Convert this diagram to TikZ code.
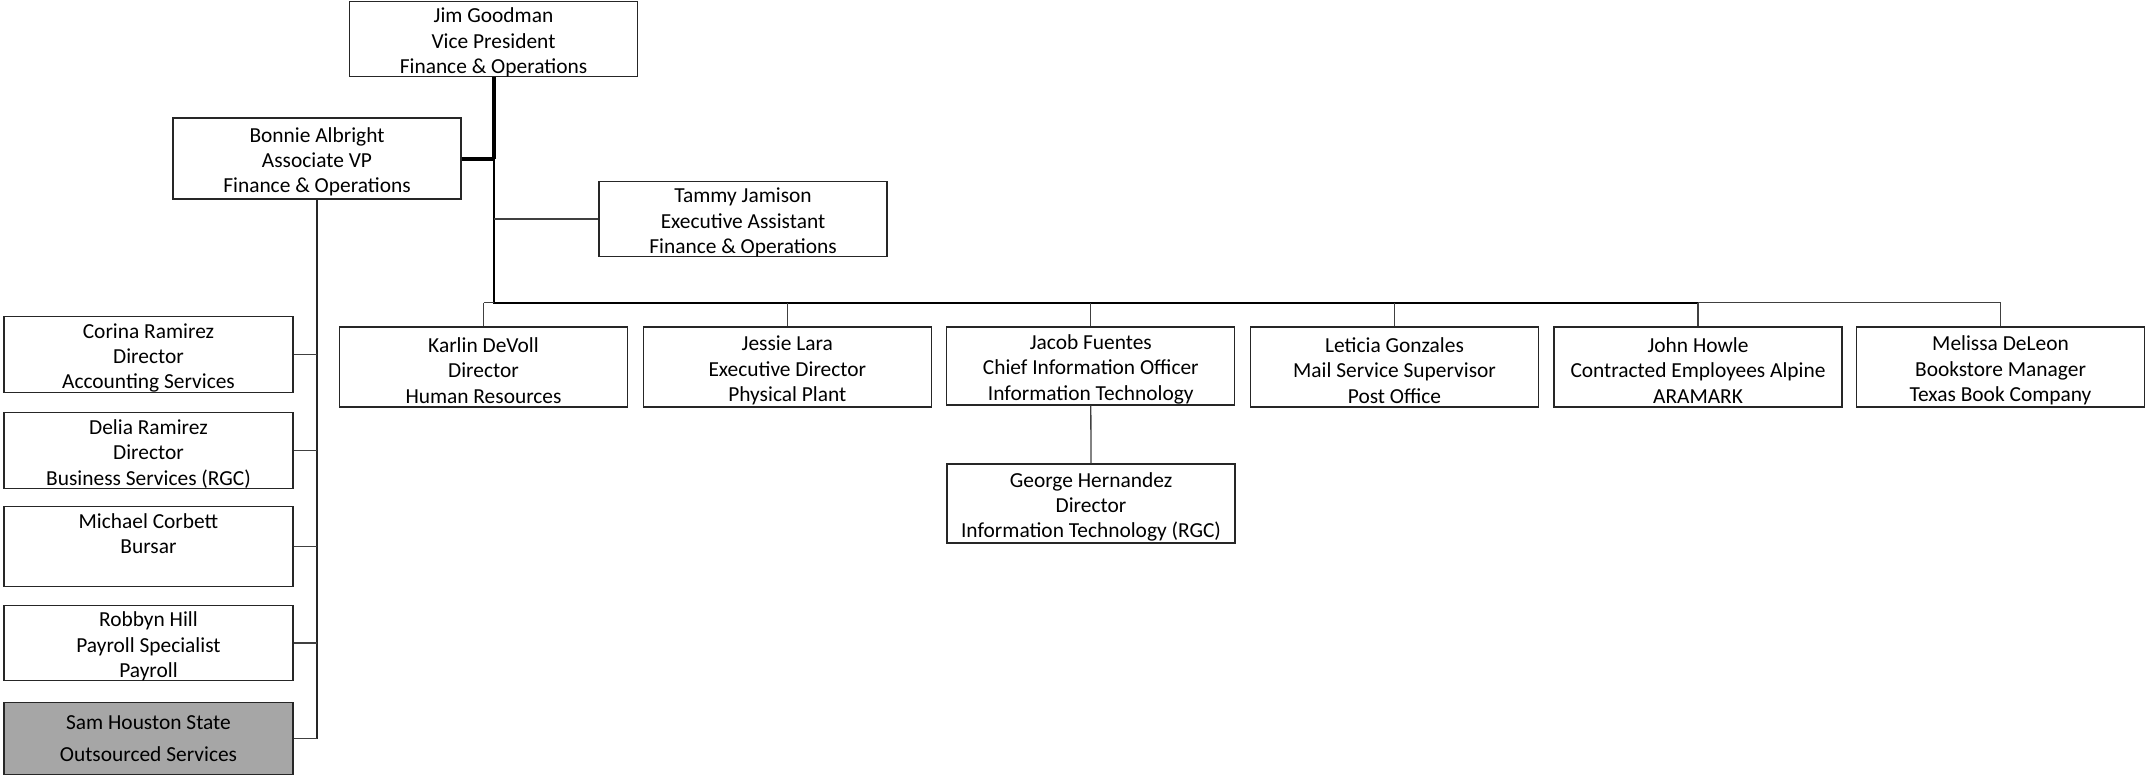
\documentclass[tikz,border=0pt]{standalone}
\usepackage{fontspec}
\setmainfont{Carlito}
\definecolor{linegray}{HTML}{404040}
\definecolor{boxgray}{HTML}{A6A6A6}
\newcommand{\fs}{\rule{0pt}{10.8pt}}
\begin{document}
\begin{tikzpicture}[x=0.5pt,y=-0.5pt,
  box/.style={draw=black!85, line width=0.55pt, rectangle, align=center, inner sep=0pt,
    minimum width=144pt, font=\fontsize{10.7}{12.7}\selectfont},
  grbox/.style={draw=black!85, line width=0.55pt, rectangle, align=center, inner sep=0pt,
    minimum width=144.5pt, fill=boxgray, font=\fontsize{10.7}{16}\selectfont},
  thickline/.style={line width=1.65pt, black},
  midline/.style={line width=0.85pt, black},
  thinline/.style={line width=0.65pt, linegray}]
\useasboundingbox (0,0) rectangle (2145,775);
% top
\node[box, minimum height=36pt] (jim) at (493.5,39) {\fs Jim Goodman\\Vice President\\Finance \& Operations};
\node[box, minimum height=40.5pt] (bonnie) at (317,158.5) {\fs Bonnie Albright\\Associate VP\\Finance \& Operations};
\node[box, minimum height=36pt] (tammy) at (743,219) {\fs Tammy Jamison\\Executive Assistant\\Finance \& Operations};
% row
\node[box, minimum height=40pt] (karlin) at (483.5,367) {\fs Karlin DeVoll\\Director\\Human Resources};
\node[box, minimum height=40pt] (jessie) at (787.3,367) {\fs Jessie Lara\\Executive Director\\Physical Plant};
\node[box, minimum height=39pt] (jacob) at (1090.8,366) {\fs Jacob Fuentes\\Chief Information Officer\\Information Technology};
\node[box, minimum height=40pt] (leticia) at (1394.5,367) {\fs Leticia Gonzales\\Mail Service Supervisor\\Post Office};
\node[box, minimum height=40pt] (john) at (1698,367) {\fs John Howle\\Contracted Employees Alpine\\ARAMARK};
\node[box, minimum height=40pt] (melissa) at (2000.5,367) {\fs Melissa DeLeon\\Bookstore Manager\\Texas Book Company};
\node[box, minimum height=39.5pt] (george) at (1091,503.5) {\fs George Hernandez\\Director\\Information Technology (RGC)};
% left column
\node[box, minimum height=36.5pt, minimum width=144.5pt] (corina) at (148.5,354.5) {\fs Corina Ramirez\\Director\\Accounting Services};
\node[box, minimum height=36.5pt, minimum width=144.5pt] (delia) at (148.5,450.5) {\fs Delia Ramirez\\Director\\Business Services (RGC)};
\node[box, minimum height=36.5pt, minimum width=144.5pt] (michael) at (148.5,546.5) {\fs Michael Corbett\\Bursar\\\strut};
\node[box, minimum height=36pt, minimum width=144.5pt] (robbyn) at (148.5,643) {\fs Robbyn Hill\\Payroll Specialist\\Payroll};
\node[grbox, minimum height=36pt] (sam) at (148.5,738.5) {Sam Houston State\\Outsourced Services};
% junction coordinates
\coordinate (j1) at (494,159);
\coordinate (bar) at (494,302.7);
\coordinate (barL) at (483.5,302.7);
\coordinate (barM) at (1698,302.7);
\coordinate (barR) at (2000.5,302.7);
\coordinate (lv) at (317,739);
% connectors
\draw[thickline] (jim.south -| j1) -- (j1);
\draw[thickline] (bonnie.east |- j1) -- (j1);
\draw[midline] (j1) -- (bar) -- (barM);
\draw[thinline] (j1 |- tammy.west) -- (tammy.west);
\draw[thinline] (barL) -- (bar);
\draw[thinline] (barM) -- (barR);
\foreach \n in {karlin,jessie,jacob,leticia,john,melissa}
  \draw[thinline] (\n.north) -- (\n.north |- bar);
\draw[thinline] (jacob.south) -- (george.north);
\draw[thinline, black!85] (bonnie.south) -- (lv);
\foreach \n in {corina,delia,michael,robbyn,sam}
  \draw[thinline] (\n.east) -- (\n.east -| lv);
\end{tikzpicture}
\end{document}
